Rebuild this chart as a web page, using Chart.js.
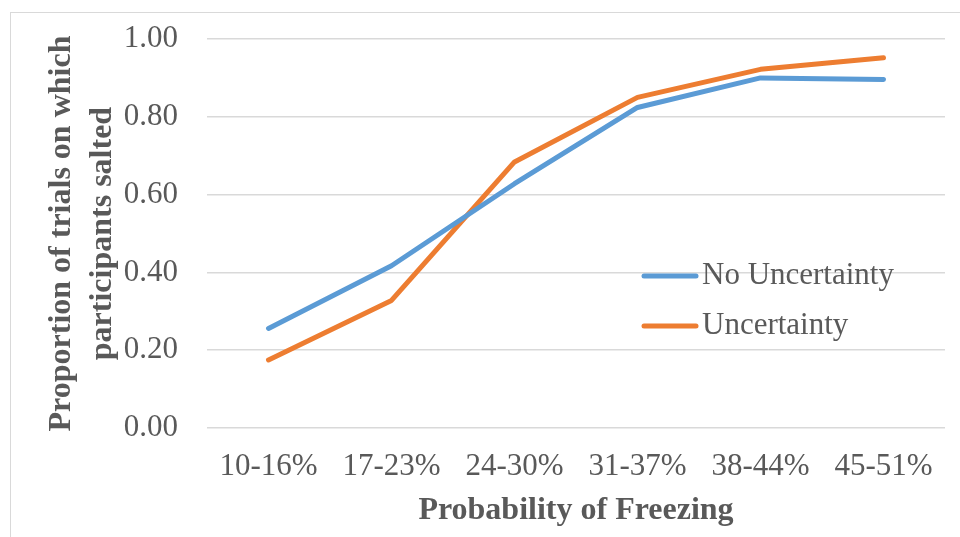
<!DOCTYPE html>
<html>
<head>
<meta charset="utf-8">
<script src="https://cdn.jsdelivr.net/npm/chart.js@4.4.0/dist/chart.umd.min.js"></script>
<style>
  html, body { margin: 0; padding: 0; background: #fff; }
  #wrap { position: relative; width: 960px; height: 537px; overflow: hidden; }
  #frame {
    position: absolute; left: 10px; top: 12px; width: 980px; height: 560px;
    border: 1.5px solid #d9d9d9; pointer-events: none;
  }
</style>
</head>
<body>
<div id="wrap">
  <canvas id="chart" width="960" height="537"></canvas>
  <div id="frame"></div>
</div>
<script>
// freezing-probability bins and proportion of trials salted
var categories = ['10-16%', '17-23%', '24-30%', '31-37%', '38-44%', '45-51%'];
var noUncertainty = [0.256, 0.417, 0.628, 0.824, 0.900, 0.896];
var uncertainty   = [0.175, 0.328, 0.684, 0.850, 0.922, 0.952];
var yTicks = [0, 0.2, 0.4, 0.6, 0.8, 1.0];

var SERIF = '"Liberation Serif", "Times New Roman", serif';
var TEXT = '#595959';
var GRID = '#d9d9d9';

// legend drawn inside the plot, Excel style
var insideLegend = {
  id: 'insideLegend',
  afterDraw: function(chart) {
    var ctx = chart.ctx;
    var rows = [276, 326];
    ctx.save();
    chart.data.datasets.forEach(function(ds, i) {
      var y = rows[i];
      ctx.strokeStyle = ds.borderColor;
      ctx.lineWidth = 5;
      ctx.lineCap = 'round';
      ctx.beginPath();
      ctx.moveTo(644, y);
      ctx.lineTo(696, y);
      ctx.stroke();
      ctx.fillStyle = TEXT;
      ctx.font = '31px ' + SERIF;
      ctx.textBaseline = 'middle';
      ctx.textAlign = 'left';
      ctx.fillText(ds.label, 702, y);
    });
    ctx.restore();
  }
};

new Chart(document.getElementById('chart'), {
  type: 'line',
  data: {
    labels: categories,
    datasets: [
      {
        label: 'No Uncertainty',
        data: noUncertainty,
        borderColor: '#5B9BD5',
        backgroundColor: '#5B9BD5',
        borderWidth: 5,
        pointRadius: 0,
        tension: 0,
        borderCapStyle: 'round',
        borderJoinStyle: 'round'
      },
      {
        label: 'Uncertainty',
        data: uncertainty,
        borderColor: '#ED7D31',
        backgroundColor: '#ED7D31',
        borderWidth: 5,
        pointRadius: 0,
        tension: 0,
        borderCapStyle: 'round',
        borderJoinStyle: 'round'
      }
    ]
  },
  options: {
    responsive: false,
    animation: false,
    devicePixelRatio: 1,
    layout: { padding: { top: 39, right: 15, bottom: 0, left: 0 } },
    plugins: {
      legend: { display: false },
      tooltip: { enabled: false }
    },
    scales: {
      x: {
        offset: true,
        grid: { display: false, drawTicks: false },
        border: { display: false },
        ticks: {
          color: TEXT,
          font: { family: SERIF, size: 31 },
          padding: 20,
          maxRotation: 0,
          autoSkip: false
        },
        title: {
          display: true,
          text: 'Probability of Freezing',
          color: TEXT,
          font: { family: SERIF, size: 32, weight: 'bold' },
          padding: { top: 0, bottom: 7 }
        },
        afterFit: function(scale) { scale.height = 109; }
      },
      y: {
        min: 0,
        max: 1,
        afterBuildTicks: function(scale) {
          scale.ticks = yTicks.map(function(v) { return { value: v }; });
        },
        grid: { color: GRID, lineWidth: 1.5, drawTicks: false },
        border: { display: false },
        ticks: {
          color: TEXT,
          font: { family: SERIF, size: 31 },
          padding: 29,
          callback: function(v) { return Number(v).toFixed(2); }
        },
        title: {
          display: true,
          text: ['Proportion of trials on which', 'participants salted'],
          color: TEXT,
          font: { family: SERIF, size: 32, weight: 'bold', lineHeight: 1.28 },
          padding: { top: 41, bottom: 0 }
        },
        afterFit: function(scale) {
          scale.width = 207;
          // tick padding would otherwise push the plot top down
          scale.paddingTop = 0;
          scale.paddingBottom = 0;
        }
      }
    }
  },
  plugins: [insideLegend]
});
</script>
</body>
</html>
